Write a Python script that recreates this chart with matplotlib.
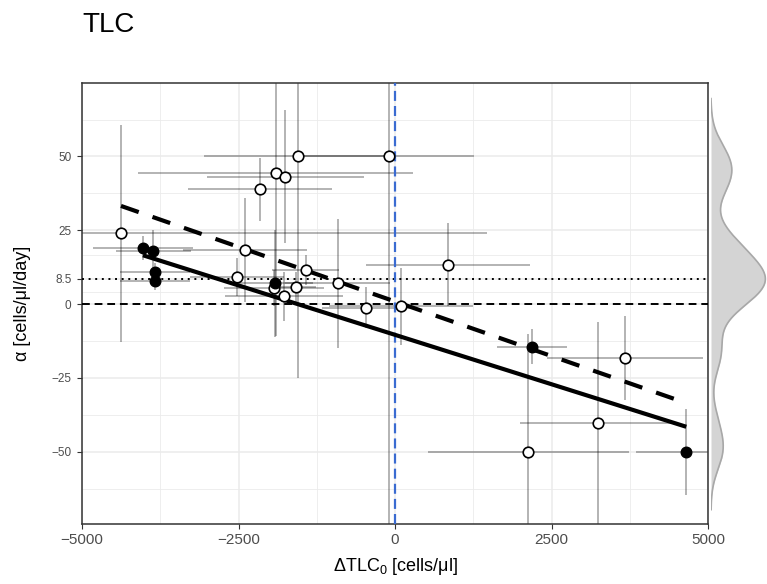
import numpy as np
import matplotlib
matplotlib.use("Agg")
import matplotlib.pyplot as plt

plt.rcParams['font.family'] = ['Liberation Sans', 'DejaVu Sans']
plt.rcParams['mathtext.fontset'] = 'custom'
plt.rcParams['mathtext.rm'] = 'Liberation Sans'

# Per-patient baseline deviation (x), slope alpha (y) and their uncertainties
delta_tlc0 = [-4377, -4026, -3861, -3834, -3834, -2391, -2529, -2157, -1906, -1752,
              -1545, -101, -1917, -1928, -1773, -1587, -1427, -916, -468, 91,
              847, 2188, 3679, 3243, 2130, 4653]
alpha_rate = [24.0, 19.0, 18.1, 11.0, 7.7, 18.3, 9.2, 38.9, 44.3, 43.2,
              50.0, 50.0, 7.0, 5.5, 2.7, 5.8, 11.5, 7.0, -1.2, -0.7,
              13.4, -14.4, -18.2, -40.4, -50.1, -50.1]
is_filled = [0, 1, 1, 1, 1, 0, 0, 0, 0, 0,
             0, 0, 1, 0, 0, 0, 0, 0, 0, 0,
             0, 1, 0, 0, 0, 1]
x_err = [5850, 800, 600, 560, 560, 990, 750, 1144, 2194, 1254,
         1500, 1360, 600, 800, 940, 320, 535, 840, 700, 1150,
         1310, 560, 1243, 1250, 1610, 800]
y_err = [36.8, 4, 7, 3, 3, 17.5, 6.5, 10.7, 55, 22.6,
         75, 140, 18, 6, 8.3, 5, 5, 21.8, 7, 13,
         14, 5.8, 14.2, 34.2, 40, 14.6]

x_ticks = [-5000, -2500, 0, 2500, 5000]
y_ticks = [-50, -25, 0, 8.5, 25, 50]
y_tick_labels = ["\u221250", "\u221225", "0", "8.5", "25", "50"]
threshold = 8.5

x = np.array(delta_tlc0, float)
y = np.array(alpha_rate, float)
filled = np.array(is_filled, bool)

W, H = 767, 584
fig = plt.figure(figsize=(W / 100, H / 100), dpi=100)
L, R, T, B = 82, 708, 82.7, 524
ax = fig.add_axes([L / W, 1 - B / H, (R - L) / W, (B - T) / H])

ylim = (-74.5, 75)
ax.set_xlim(-5000, 5000)
ax.set_ylim(*ylim)

# grid
ax.set_xticks(x_ticks)
ax.set_xticklabels([f"{v}".replace("-", "\u2212") for v in x_ticks])
ax.set_yticks(y_ticks)
ax.set_yticklabels(y_tick_labels)
ax.set_xticks([-3750, -1250, 1250, 3750], minor=True)
ax.set_yticks([-62.5, -37.5, -12.5, 4.25, 16.75, 37.5, 62.5], minor=True)
ax.grid(which='major', color='#ebebeb', lw=1.1)
ax.grid(which='minor', color='#ebebeb', lw=0.6)
ax.set_axisbelow(True)
ax.tick_params(axis='both', which='minor', length=0)
ax.tick_params(axis='both', which='major', length=3.5, width=0.8, color='#333333')
ax.tick_params(axis='x', labelsize=11, labelcolor='#4d4d4d', pad=3)
ax.tick_params(axis='y', labelsize=8.5, labelcolor='#4d4d4d', pad=4)
for s in ax.spines.values():
    s.set_color('#333333')
    s.set_linewidth(1.1)

# error bars
ax.errorbar(x, y, xerr=x_err, yerr=y_err, fmt='none', ecolor='black',
            alpha=0.35, elinewidth=1.2, capsize=0, zorder=2)

# reference lines
ax.axhline(0, color='black', lw=1.4, dashes=(4, 2.5), zorder=3)
ax.axhline(threshold, color='black', lw=1.4, dashes=(1, 2.4), zorder=3)
ax.axvline(0, color='#3a6bd1', lw=1.6, dashes=(4.5, 2.3), zorder=3)

# linear fits: filled subset (solid) and all points (dashed)
b1, a1 = np.polyfit(x[filled], y[filled], 1)
xs1 = np.array([x[filled].min(), x[filled].max()])
ax.plot(xs1, a1 + b1 * xs1, color='black', lw=3.0, solid_capstyle='butt', zorder=4)
b2, a2 = np.polyfit(x, y, 1)
xs2 = np.array([x.min(), x.max()])
ax.plot(xs2, a2 + b2 * xs2, color='black', lw=3.0, dashes=(4.5, 3.5), zorder=4)

# points
ax.plot(x[~filled], y[~filled], 'o', ms=7.6, mfc='white', mec='black', mew=1.2, zorder=5)
ax.plot(x[filled], y[filled], 'o', ms=7.6, mfc='black', mec='black', mew=1.0, zorder=5)

ax.set_xlabel("\u0394TLC$_\\mathregular{0}$ [cells/\u03bcl]", fontsize=13, color='black')
ax.set_ylabel("\u03b1 [cells/\u03bcl/day]", fontsize=13, color='black')
ax.xaxis.set_label_coords(0.5, -0.072)
ax.yaxis.set_label_coords(-0.082, 0.5)

fig.text(L / W, 1 - 25 / H, "TLC", fontsize=20, ha='left', va='center')

# marginal density of alpha (Gaussian KDE, nrd0 bandwidth, cut = 3)
sd = y.std(ddof=1)
iqr = np.subtract(*np.percentile(y, [75, 25]))
bw = 0.9 * min(sd, iqr / 1.34) * len(y) ** (-0.2)
grid = np.linspace(y.min() - 3 * bw, y.max() + 3 * bw, 512)
dens = np.exp(-0.5 * ((grid[:, None] - y[None, :]) / bw) ** 2).sum(1) / (len(y) * bw * np.sqrt(2 * np.pi))

axd = fig.add_axes([711 / W, 1 - B / H, (W - 711) / W, (B - T) / H])
axd.set_ylim(*ylim)
axd.set_xlim(0, dens.max() * 1.03)
axd.fill_betweenx(grid, 0, dens, color='#d4d4d4', lw=0)
axd.plot(np.r_[0, dens, 0], np.r_[grid[0], grid, grid[-1]], color='#a8a8a8', lw=1.2)
axd.axis('off')

fig.savefig("out.png", dpi=100)
